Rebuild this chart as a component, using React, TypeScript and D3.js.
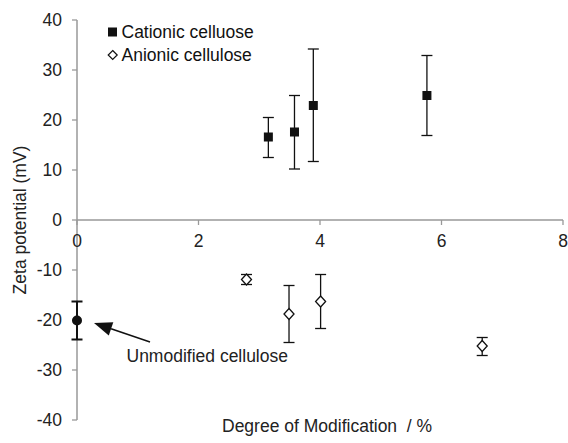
import React from "react";
import * as d3 from "d3";

const xTicks = [0, 2, 4, 6, 8];
const yTicks = [-40, -30, -20, -10, 0, 10, 20, 30, 40];

const cationicX = [3.15, 3.58, 3.89, 5.76];
const cationicY = [16.6, 17.6, 22.9, 24.9];
const cationicHi = [20.5, 24.9, 34.2, 32.9];
const cationicLo = [12.5, 10.2, 11.7, 16.9];

const anionicX = [2.79, 3.49, 4.01, 6.67];
const anionicY = [-11.9, -18.8, -16.3, -25.2];
const anionicHi = [-10.9, -13.1, -10.9, -23.5];
const anionicLo = [-12.9, -24.5, -21.7, -27.1];

const unmodX = [0];
const unmodY = [-20.1];
const unmodHi = [-16.3];
const unmodLo = [-23.9];

const legendLabels = ["Cationic celluose", "Anionic cellulose"];
const annotation = "Unmodified cellulose";
const xTitle = "Degree of Modification  / %";
const yTitle = "Zeta potential (mV)";

const W = 568;
const H = 443;
const FONT = "'Liberation Sans', Arial, sans-serif";
const FS = 17.5;
const AXIS = "#999";

export default function App() {
  const x = d3.scaleLinear().domain([0, 8]).range([77, 563]);
  const y = d3.scaleLinear().domain([-40, 40]).range([420, 20]);
  const cap = 5.5;

  const errBar = (xs: number[], hi: number[], lo: number[], key: string, sw = 1.3) =>
    xs.map((v, i) => (
      <g key={key + i} stroke="#111" strokeWidth={sw}>
        <line x1={x(v)} x2={x(v)} y1={y(hi[i])} y2={y(lo[i])} />
        <line x1={x(v) - cap} x2={x(v) + cap} y1={y(hi[i])} y2={y(hi[i])} />
        <line x1={x(v) - cap} x2={x(v) + cap} y1={y(lo[i])} y2={y(lo[i])} />
      </g>
    ));

  const diamond = (cx: number, cy: number, w = 5, h = 5.5) =>
    `M${cx},${cy - h}L${cx + w},${cy}L${cx},${cy + h}L${cx - w},${cy}Z`;

  // arrow
  const ax1 = 150, ay1 = 342, ax2 = 94, ay2 = 323;
  const ang = Math.atan2(ay2 - ay1, ax2 - ax1);
  const hl = 18, hw = 7;
  const bx = ax2 - hl * Math.cos(ang), by = ay2 - hl * Math.sin(ang);
  const px = -Math.sin(ang) * hw, py = Math.cos(ang) * hw;
  const head = `M${ax2},${ay2}L${bx + px},${by + py}L${bx - px},${by - py}Z`;

  return (
    <svg width={W} height={H} style={{ position: "absolute", left: 0, top: 0, background: "#fff" }} fontFamily={FONT}>
      <rect width={W} height={H} fill="#fff" />
      {/* y axis */}
      <line x1={x(0)} x2={x(0)} y1={y(40)} y2={y(-40)} stroke={AXIS} strokeWidth={1.5} />
      {yTicks.map((t) => (
        <g key={"yt" + t}>
          <line x1={x(0) - 5} x2={x(0)} y1={y(t)} y2={y(t)} stroke={AXIS} strokeWidth={1.3} />
          <text x={x(0) - 15} y={y(t)} dy="0.36em" textAnchor="end" fontSize={FS} fill="#222">
            {t}
          </text>
        </g>
      ))}
      {/* x axis */}
      <line x1={x(0)} x2={x(8)} y1={y(0)} y2={y(0)} stroke={AXIS} strokeWidth={1.5} />
      {xTicks.map((t) => (
        <g key={"xt" + t}>
          <line x1={x(t)} x2={x(t)} y1={y(0)} y2={y(0) + 5} stroke={AXIS} strokeWidth={1.3} />
          <text x={x(t)} y={y(0) + 27} textAnchor="middle" fontSize={FS} fill="#222">
            {t}
          </text>
        </g>
      ))}
      {/* titles */}
      <text x={222} y={432} fontSize={FS} fill="#222" style={{ whiteSpace: "pre" }}>
        {xTitle}
      </text>
      <text
        transform={`translate(26,${(y(40) + y(-40)) / 2}) rotate(-90)`}
        textAnchor="middle"
        fontSize={FS}
        fill="#222"
      >
        {yTitle}
      </text>
      {/* error bars */}
      {errBar(cationicX, cationicHi, cationicLo, "ce")}
      {errBar(anionicX, anionicHi, anionicLo, "ae")}
      {errBar(unmodX, unmodHi, unmodLo, "ue", 2)}
      {/* markers */}
      {cationicX.map((v, i) => (
        <rect key={"cm" + i} x={x(v) - 4.5} y={y(cationicY[i]) - 4.5} width={9} height={9} fill="#111" />
      ))}
      {anionicX.map((v, i) => (
        <path key={"am" + i} d={diamond(x(v), y(anionicY[i]))} fill="#fff" stroke="#111" strokeWidth={1.3} />
      ))}
      {unmodX.map((v, i) => (
        <circle key={"um" + i} cx={x(v)} cy={y(unmodY[i])} r={5} fill="#111" />
      ))}
      {/* legend */}
      <rect x={108} y={27.5} width={9} height={9} fill="#111" />
      <text x={121.5} y={38} fontSize={FS} fill="#111">{legendLabels[0]}</text>
      <path d={diamond(112.7, 55, 4.5, 4.5)} fill="#fff" stroke="#111" strokeWidth={1.2} />
      <text x={121.5} y={61} fontSize={FS} fill="#111">{legendLabels[1]}</text>
      {/* annotation */}
      <line x1={ax1} y1={ay1} x2={bx} y2={by} stroke="#111" strokeWidth={1.5} />
      <path d={head} fill="#111" />
      <text x={126.5} y={362} fontSize={FS} fill="#222">{annotation}</text>
    </svg>
  );
}
